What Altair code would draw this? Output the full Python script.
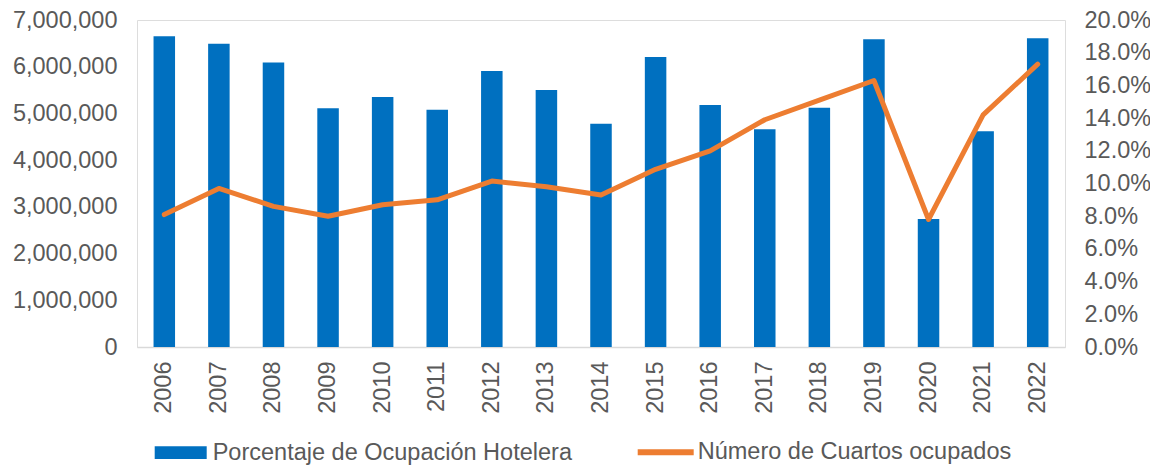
import altair as alt
import pandas as pd

years = ["2006", "2007", "2008", "2009", "2010", "2011", "2012", "2013", "2014",
         "2015", "2016", "2017", "2018", "2019", "2020", "2021", "2022"]
bar_values = [6650000, 6490000, 6090000, 5110000, 5350000, 5080000, 5910000, 5500000, 4780000,
              6210000, 5180000, 4660000, 5120000, 6590000, 2740000, 4620000, 6610000]
line_values = [0.081, 0.097, 0.086, 0.080, 0.087, 0.090, 0.1015, 0.098, 0.093,
               0.1087, 0.120, 0.139, 0.151, 0.163, 0.078, 0.142, 0.173]
bar_name = "Porcentaje de Ocupación Hotelera"
line_name = "Número de Cuartos ocupados"

df = pd.DataFrame({"year": years, "bar": bar_values, "line": line_values})
df["serie_bar"] = bar_name
df["serie_line"] = line_name

FONT = "Liberation Sans"
FS = 23.5
GRAY = "#595959"
BLUE = "#0070C0"
ORANGE = "#ED7D31"

x = alt.X("year:N", title=None,
          scale=alt.Scale(paddingInner=0.606, paddingOuter=0.303),
          axis=alt.Axis(labelAngle=-90, labelFontSize=FS, labelColor=GRAY, labelFont=FONT,
                        ticks=False, tickSize=0, labelPadding=14, domainColor="#D9D9D9",
                        domainWidth=1.5, grid=False))

bars = alt.Chart(df).mark_bar(color=BLUE).encode(
    x=x,
    y=alt.Y("bar:Q", title=None,
            scale=alt.Scale(domain=[0, 7000000], nice=False),
            axis=alt.Axis(orient="left", values=[0, 1000000, 2000000, 3000000, 4000000,
                                                 5000000, 6000000, 7000000],
                          format=",d", labelFontSize=FS, labelColor=GRAY, labelFont=FONT,
                          ticks=False, tickSize=0, labelPadding=20, domain=False, grid=False)),
    color=alt.Color("serie_bar:N", scale=alt.Scale(range=[BLUE]),
                    legend=alt.Legend(orient="none", legendX=17.7, legendY=406.7, title=None,
                                      padding=0, symbolType="M-1,-0.245H1V0.245H-1Z",
                                      symbolSize=2704, symbolStrokeWidth=0, symbolOpacity=1,
                                      labelFontSize=FS, labelColor=GRAY, labelFont=FONT,
                                      labelOffset=6, labelLimit=600)),
)

line = alt.Chart(df).mark_line(strokeWidth=5, strokeCap="round", strokeJoin="round").encode(
    x=x,
    y=alt.Y("line:Q", title=None,
            scale=alt.Scale(domain=[0, 0.2], nice=False),
            axis=alt.Axis(orient="right", values=[0, 0.02, 0.04, 0.06, 0.08, 0.1, 0.12, 0.14,
                                                  0.16, 0.18, 0.2],
                          format=".1%", labelFontSize=FS, labelColor=GRAY, labelFont=FONT,
                          ticks=False, tickSize=0, labelPadding=19, domain=False, grid=False)),
    stroke=alt.Stroke("serie_line:N", scale=alt.Scale(range=[ORANGE]),
                      legend=alt.Legend(orient="none", legendX=497.7, legendY=401.3, title=None,
                                        padding=0, symbolType="M-1,0H1", symbolSize=3136,
                                        symbolStrokeWidth=6, labelFontSize=FS, labelColor=GRAY,
                                        labelFont=FONT, labelOffset=1, labelLimit=600)),
)

chart = alt.layer(bars, line).resolve_scale(y="independent", color="independent").properties(
    width=928, height=327,
    autosize=alt.AutoSizeParams(type="none"),
    padding={"left": 129, "top": 12, "right": 85, "bottom": 118},
).configure_view(stroke=None).configure(font=FONT)

chart.save("out.html", embed_options={"renderer": "svg", "actions": False})
